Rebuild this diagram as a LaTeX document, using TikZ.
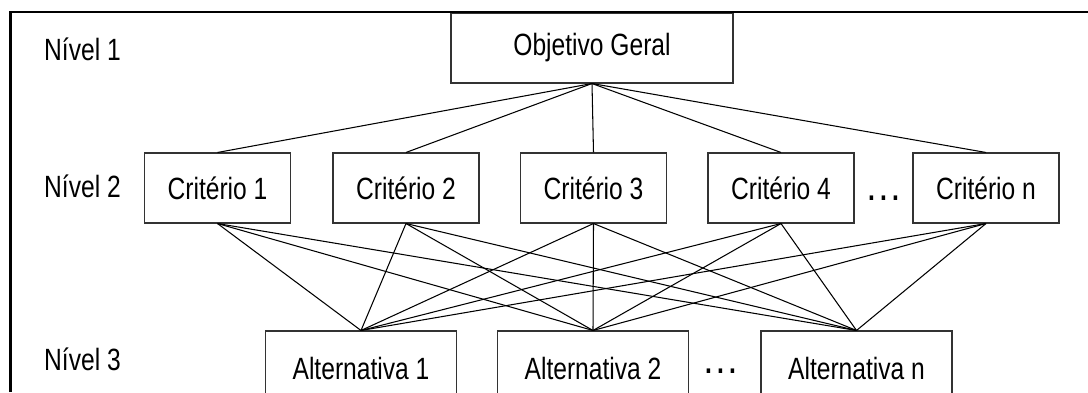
\documentclass[tikz,border=0pt]{standalone}
\usepackage{fontspec}
\setmainfont{Liberation Sans}[FakeStretch=0.8]

\begin{document}
\begin{tikzpicture}[
        font=\fontsize{17.5}{21}\selectfont,
        caixa/.style={draw=black!80,line width=0.6pt,inner sep=0pt,minimum height=1.4cm},
        criterio/.style={caixa,minimum width=2.92cm},
        alternativa/.style={caixa,minimum width=3.82cm,minimum height=1.52cm},
        liga/.style={line width=0.6pt},
        nivel/.style={anchor=base west},
        pontos/.style={anchor=base,font=\fontsize{17.5}{21}\selectfont\bfseries}
    ]
                \clip (0,0) rectangle (21.76,7.84);
                % niveis
                \node[nivel] (n1) at (0.76,6.64) {Nível 1};
                \node[nivel] (n2) at (0.76,3.9) {Nível 2};
                \node[nivel] (n3) at (0.76,0.44) {Nível 3};
                % objetivo
                \node[caixa,minimum width=5.64cm] (obj) at (11.84,6.88) {Objetivo Geral};
                % criterios
                \node[criterio] (crit1) at (4.35,4.08) {Critério 1};
                \node[criterio] (crit2) at (8.12,4.08) {Critério 2};
                \node[criterio] (crit3) at (11.87,4.08) {Critério 3};
                \node[criterio] (crit4) at (15.62,4.08) {Critério 4};
                \node[criterio] (crit5) at (19.72,4.08) {Critério n};
                \node[pontos] (pc) at (17.67,3.84) {.\,.\,.};
                % alternativas
                \node[alternativa] (alt1) at (7.22,0.46) {Alternativa 1};
                \node[alternativa] (alt2) at (11.86,0.46) {Alternativa 2};
                \node[alternativa] (alt3) at (17.13,0.46) {Alternativa n};
                \node[pontos] (pa) at (14.41,0.38) {.\,.\,.};
                % ligacoes
                \foreach \i in {1,...,5}{
                    \draw[liga] (obj.south)--(crit\i.north);
                    \foreach \j in {1,2,3}{
                        \draw[liga] (crit\i.south)--(alt\j.north);
                    }
                }
                \draw[line width=1.7pt] (0.21,0)--(0.21,7.6)--(21.76,7.6);
            \end{tikzpicture}
\end{document}
